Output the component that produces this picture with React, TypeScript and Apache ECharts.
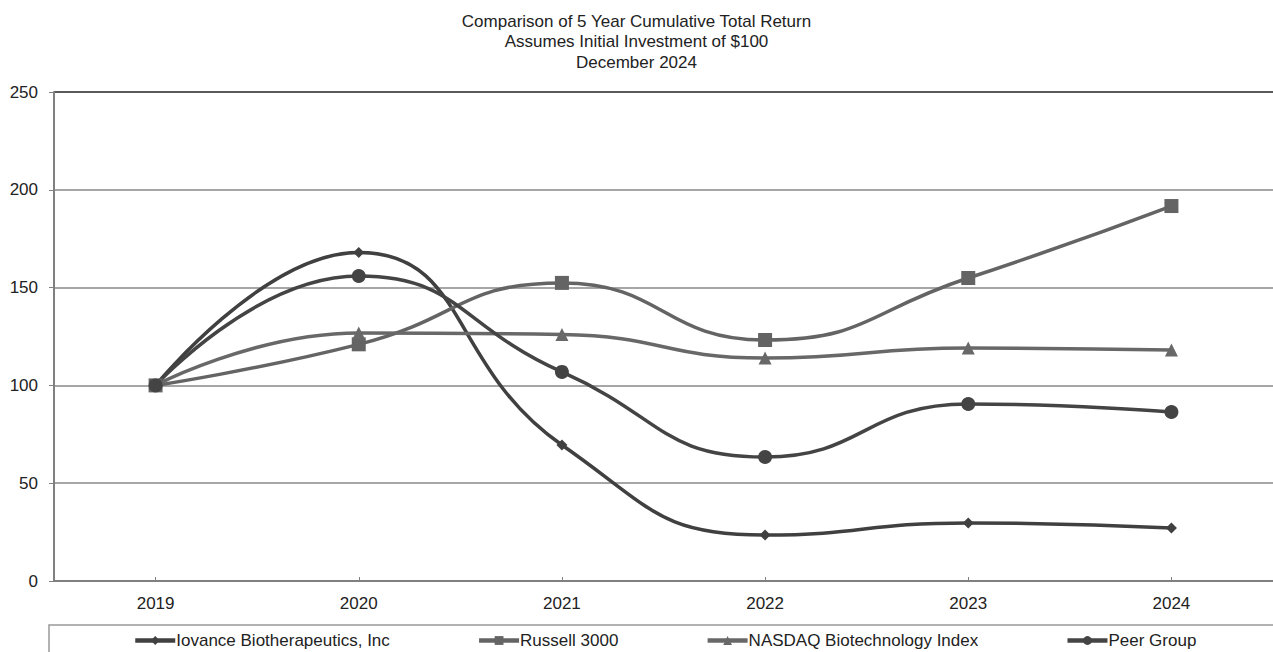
import React, { useEffect, useRef } from "react";
import * as echarts from "echarts";

const years = ["2019", "2020", "2021", "2022", "2023", "2024"];
const iovance = [100, 168, 69.5, 23.5, 29.7, 27.1];
const russell = [100, 121, 152.4, 123.2, 154.9, 191.7];
const nasdaq = [100, 126.8, 126, 114, 119.1, 118.1];
const peer = [100, 155.9, 106.9, 63.4, 90.5, 86.4];

const titleLines = [
  "Comparison of 5 Year Cumulative Total Return",
  "Assumes Initial Investment of $100",
  "December 2024",
];

const FONT = "Liberation Sans, Arial, sans-serif";

export default function App() {
  const ref = useRef<HTMLDivElement>(null);
  useEffect(() => {
    document.body.style.margin = "0";
    const chart = echarts.init(ref.current!, null, { renderer: "svg" });
    const mk = (name: string, data: number[], color: string, symbol: string, size: number) => ({
      name,
      type: "line",
      data,
      smooth: 0.5,
      symbol,
      symbolSize: size,
      showSymbol: true,
      lineStyle: { color, width: 3.5 },
      itemStyle: { color },
      z: 3,
    });
    chart.setOption({
      animation: false,
      backgroundColor: "#fff",
      title: {
        text: titleLines.join("\n"),
        left: "center",
        top: 6,
        textStyle: { fontFamily: FONT, fontSize: 17, fontWeight: "normal", color: "#222", lineHeight: 20.5 },
      },
      grid: { left: 54, right: 0, top: 92, bottom: 71, containLabel: false },
      xAxis: {
        type: "category",
        data: years,
        boundaryGap: true,
        axisLine: { show: true, lineStyle: { color: "#808080", width: 2 } },
        axisTick: { show: true, inside: true, alignWithLabel: true, length: 4, lineStyle: { color: "#808080" } },
        axisLabel: { fontFamily: FONT, fontSize: 17, color: "#222", margin: 14 },
      },
      yAxis: {
        type: "value",
        min: 0,
        max: 250,
        interval: 50,
        axisLine: { show: true, lineStyle: { color: "#808080", width: 2 } },
        axisTick: { show: true, length: 5, lineStyle: { color: "#808080" } },
        axisLabel: { fontFamily: FONT, fontSize: 17, color: "#222", margin: 16 },
        splitLine: { show: true, lineStyle: { color: ["#888", "#888", "#888", "#888", "#888", "#222"], width: 1.5 } },
      },
      legend: {
        bottom: -2,
        left: 128,
        itemGap: 87,
        itemWidth: 40,
        itemHeight: 11,
        lineStyle: { width: 4.5 },
        textStyle: { fontFamily: FONT, fontSize: 17, color: "#222", padding: [0, 0, 0, -4] },
        data: ["Iovance Biotherapeutics, Inc", "Russell 3000", "NASDAQ Biotechnology Index", "Peer Group"],
      },
      graphic: [
        {
          type: "rect",
          shape: { x: 49, y: 625, width: 1240, height: 60 },
          style: { fill: "none", stroke: "#999", lineWidth: 1.5 },
          z: -1,
        },
      ],
      series: [
        mk("Iovance Biotherapeutics, Inc", iovance, "#404040", "diamond", 11),
        mk("Russell 3000", russell, "#646464", "rect", 14),
        mk("NASDAQ Biotechnology Index", nasdaq, "#686868", "triangle", 13),
        mk("Peer Group", peer, "#444444", "circle", 14),
      ],
    });
    return () => chart.dispose();
  }, []);
  return <div ref={ref} style={{ width: 1273, height: 652 }} />;
}
